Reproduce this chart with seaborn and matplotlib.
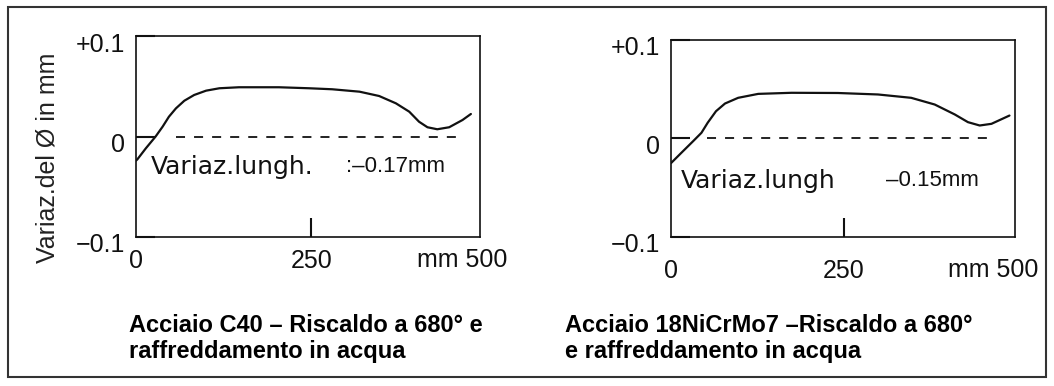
import pandas as pd
import matplotlib
matplotlib.use("Agg")
import matplotlib.pyplot as plt
import seaborn as sns
from matplotlib.transforms import ScaledTranslation
from matplotlib.patches import Rectangle

# curves: position along the piece (mm) and diameter change (mm)
c40_pos = [0, 2, 14, 28, 38, 47, 57, 69, 83, 100, 119, 147, 204, 247, 280, 319, 347,
           371, 390, 404, 416, 430, 447, 466, 478]
c40_var = [-0.024, -0.0227, -0.0118, 0.0, 0.0098, 0.0197, 0.028, 0.0356, 0.0413, 0.0456,
           0.048, 0.049, 0.049, 0.048, 0.047, 0.0446, 0.0403, 0.033, 0.0247, 0.0147,
           0.0092, 0.0072, 0.0092, 0.0164, 0.0224]

ni_pos = [0, 15, 32, 44, 53, 65, 78, 97, 126, 174, 241, 299, 347, 381, 410, 429, 446, 463, 489]
ni_var = [-0.025, -0.0145, -0.0027, 0.0058, 0.016, 0.0277, 0.0355, 0.0413, 0.0453, 0.0464,
          0.0462, 0.0447, 0.0413, 0.0345, 0.0244, 0.0166, 0.0132, 0.0149, 0.0233]

zero_left = [57, 464]
zero_right = [52, 468]

x_ticks = [0, 250]
x_tick_labels = ["0", "250"]
y_ticks = [-0.1, 0, 0.1]
y_tick_labels = ["\u22120.1", "0", "+0.1"]

captions_left = ["Acciaio C40 \u2013 Riscaldo a 680\u00b0 e", "raffreddamento in acqua"]
captions_right = ["Acciaio 18NiCrMo7 \u2013Riscaldo a 680\u00b0", "e raffreddamento in acqua"]

sns.set_style("white")
plt.rcParams['font.family'] = ['Liberation Sans', 'DejaVu Sans']
plt.rcParams['text.color'] = "#111111"

df_c40 = pd.DataFrame({"pos": c40_pos, "var": c40_var})
df_ni = pd.DataFrame({"pos": ni_pos, "var": ni_var})

fig = plt.figure(figsize=(10.54, 3.86), dpi=100)
ax1 = fig.add_axes([136 / 1054, 149 / 386, 344 / 1054, 201 / 386])
ax2 = fig.add_axes([671 / 1054, 149 / 386, 344 / 1054, 197 / 386])

panels = [
    (ax1, df_c40, zero_left, (0, 491), 9, "Variaz.lungh.", 21, ":\u20130.17mm", 300, -0.030, 466, -0.123),
    (ax2, df_ni, zero_right, (0, 497), 16, "Variaz.lungh", 14, "\u20130.15mm", 311, -0.043, 466, -0.133),
]

for ax, df, zl, xl, xpad, lab, lab_x, val, val_x, txt_y, mm_x, mm_y in panels:
    sns.lineplot(data=df, x="pos", y="var", ax=ax, color="#111111", lw=1.6)
    ax.plot(zl, [0, 0], color="#111111", lw=1.3, ls=(0, (5, 5)))
    ax.set_xlim(*xl)
    ax.set_ylim(-0.1, 0.1)
    ax.set_xticks(x_ticks)
    ax.set_xticklabels(x_tick_labels)
    ax.set_yticks(y_ticks)
    ax.set_yticklabels(y_tick_labels)
    ax.set_xlabel("")
    ax.set_ylabel("")
    for s in ax.spines.values():
        s.set_color("#111111")
        s.set_linewidth(1.2)
    ax.tick_params(axis="x", bottom=True, top=False, direction="in", length=14, width=1.5, pad=xpad,
                   labelsize=18, colors="#111111")
    ax.tick_params(axis="y", left=True, right=False, direction="in", length=14, width=1.5, pad=8,
                   labelsize=18, colors="#111111")
    # the tick at 0 would only thicken the left spine
    ax.xaxis.get_major_ticks()[0].tick1line.set_visible(False)
    for t in ax.get_yticklabels():
        t.set_transform(t.get_transform() + ScaledTranslation(0, -6 / 100, fig.dpi_scale_trans))
    ax.text(mm_x, mm_y, "mm 500", ha="center", va="center", fontsize=18, color="#111111")
    ax.text(lab_x, txt_y, lab, ha="left", va="center", fontsize=18, color="#111111", family="DejaVu Sans")
    ax.text(val_x, txt_y, val, ha="left", va="center", fontsize=16, color="#111111")

fig.text(48 / 1054, 1 - 158 / 386, "Variaz.del \u00d8 in mm", rotation=90, ha="center", va="center",
         fontsize=18, color="#222222")

for x0, lines in [(129, captions_left), (565, captions_right)]:
    fig.text(x0 / 1054, 1 - 332 / 386, lines[0], ha="left", va="baseline", fontsize=17,
             fontweight="bold", color="black")
    fig.text(x0 / 1054, 1 - 358 / 386, lines[1], ha="left", va="baseline", fontsize=17,
             fontweight="bold", color="black")

# outer frame of the scanned figure
fig.patches.append(Rectangle((8 / 1054, 9 / 386), 1038 / 1054, 370 / 386, transform=fig.transFigure,
                             fill=False, edgecolor="#333333", lw=1.5))

fig.savefig("out.png", dpi=100, facecolor="white")
